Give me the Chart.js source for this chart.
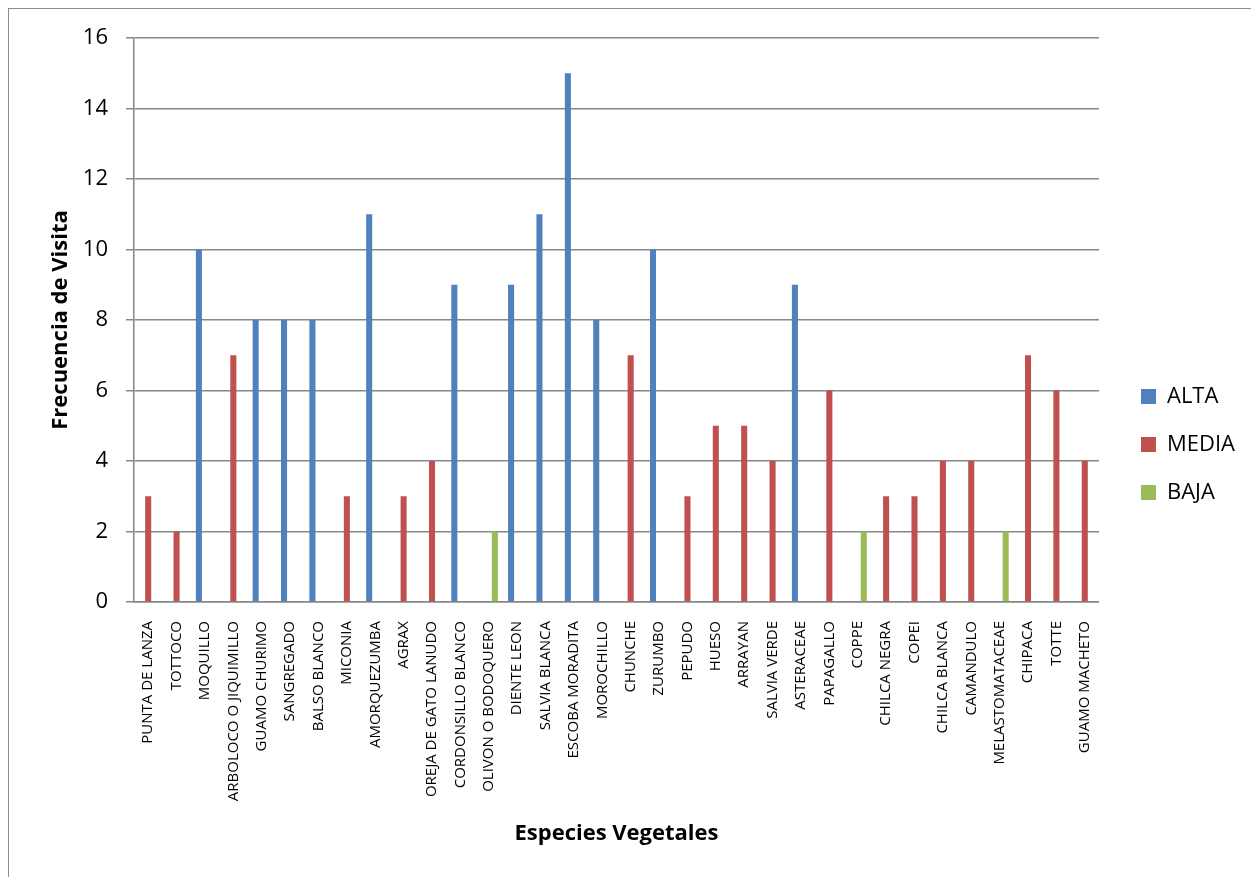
<!DOCTYPE html>
<html lang="es">
<head>
    <meta charset="utf-8" />
    <title>Frecuencia de Visita por Especie Vegetal</title>
    <script src="https://cdn.jsdelivr.net/npm/chart.js"></script>
    <style>
        html, body { margin: 0; padding: 0; background: #fff; overflow: hidden; }
        /* marco gris del gráfico */
        #marco { position: absolute; left: 8px; top: 8px; width: 1300px; height: 1000px; border: 1px solid #8c8c8c; }
        #contenedor { position: absolute; left: 0; top: 0; width: 1251px; height: 877px; }
    </style>
</head>
<body>
    <div id="marco"></div>
    <div id="contenedor"><canvas id="grafico"></canvas></div>

    <script>
        // Especies (eje X)
        const especies = [
            'PUNTA DE LANZA', 'TOTTOCO', 'MOQUILLO', 'ARBOLOCO O JIQUIMILLO', 'GUAMO CHURIMO',
            'SANGREGADO', 'BALSO BLANCO', 'MICONIA', 'AMORQUEZUMBA', 'AGRAX',
            'OREJA DE GATO LANUDO', 'CORDONSILLO BLANCO', 'OLIVON O BODOQUERO', 'DIENTE LEON', 'SALVIA BLANCA',
            'ESCOBA MORADITA', 'MOROCHILLO', 'CHUNCHE', 'ZURUMBO', 'PEPUDO',
            'HUESO', 'ARRAYAN', 'SALVIA VERDE', 'ASTERACEAE', 'PAPAGALLO',
            'COPPE', 'CHILCA NEGRA', 'COPEI', 'CHILCA BLANCA', 'CAMANDULO',
            'MELASTOMATACEAE', 'CHIPACA', 'TOTTE', 'GUAMO MACHETO'
        ];

        // Frecuencia de visita por nivel
        const alta = [
            null, null, 10, null, 8, 8, 8, null, 11, null,
            null, 9, null, 9, 11, 15, 8, null, 10, null,
            null, null, null, 9, null, null, null, null, null, null,
            null, null, null, null
        ];
        const media = [
            3, 2, null, 7, null, null, null, 3, null, 3,
            4, null, null, null, null, null, null, 7, null, 3,
            5, 5, 4, null, 6, null, 3, 3, 4, 4,
            null, 7, 6, 4
        ];
        const baja = [
            null, null, null, null, null, null, null, null, null, null,
            null, null, 2, null, null, null, null, null, null, null,
            null, null, null, null, null, 2, null, null, null, null,
            2, null, null, null
        ];

        const ticksY = [0, 2, 4, 6, 8, 10, 12, 14, 16];

        const gris = '#878787';
        const fuente = "'Open Sans', sans-serif";

        const ctx = document.getElementById('grafico');
        new Chart(ctx, {
            type: 'bar',
            data: {
                labels: especies,
                datasets: [
                    { label: 'ALTA', data: alta, backgroundColor: '#4F81BD' },
                    { label: 'MEDIA', data: media, backgroundColor: '#C0504D' },
                    { label: 'BAJA', data: baja, backgroundColor: '#9BBB59' }
                ]
            },
            options: {
                responsive: true,
                maintainAspectRatio: false,
                animation: false,
                datasets: { bar: { categoryPercentage: 0.64, barPercentage: 1.0 } },
                layout: { padding: { left: 44, top: 38, right: 6, bottom: 26 } },
                plugins: {
                    tooltip: { enabled: false },
                    legend: {
                        position: 'right',
                        labels: {
                            font: { family: fuente, size: 22 },
                            color: '#000',
                            boxWidth: 15,
                            boxHeight: 15,
                            padding: 26
                        }
                    }
                },
                scales: {
                    x: {
                        grid: { display: false },
                        border: { display: true, color: gris, width: 1.5 },
                        ticks: {
                            autoSkip: false,
                            minRotation: 90,
                            maxRotation: 90,
                            padding: 11,
                            color: '#000',
                            font: { family: fuente, size: 15 }
                        },
                        title: {
                            display: true,
                            text: 'Especies Vegetales',
                            color: '#000',
                            font: { family: fuente, size: 22, weight: 'bold' }
                        },
                        afterFit: s => { s.height = 877 - 602 - 26; }
                    },
                    y: {
                        min: 0,
                        max: 16,
                        afterBuildTicks: s => { s.ticks = ticksY.map(v => ({ value: v })); },
                        grid: { color: gris, lineWidth: 1.5, tickLength: 8 },
                        border: { display: true, color: gris, width: 1.5 },
                        ticks: {
                            padding: 18,
                            color: '#000',
                            font: { family: fuente, size: 22 }
                        },
                        title: {
                            display: true,
                            text: 'Frecuencia de Visita',
                            color: '#000',
                            font: { family: fuente, size: 22, weight: 'bold' }
                        },
                        afterFit: s => { s.width = 134 - 44; }
                    },
                    // eje vacío a la derecha: solo deja aire entre el gráfico y la leyenda
                    margen: {
                        position: 'right',
                        display: true,
                        grid: { display: false },
                        border: { display: false },
                        ticks: { display: false },
                        afterFit: s => { s.width = 16; }
                    }
                }
            }
        });
    </script>
</body>
</html>
